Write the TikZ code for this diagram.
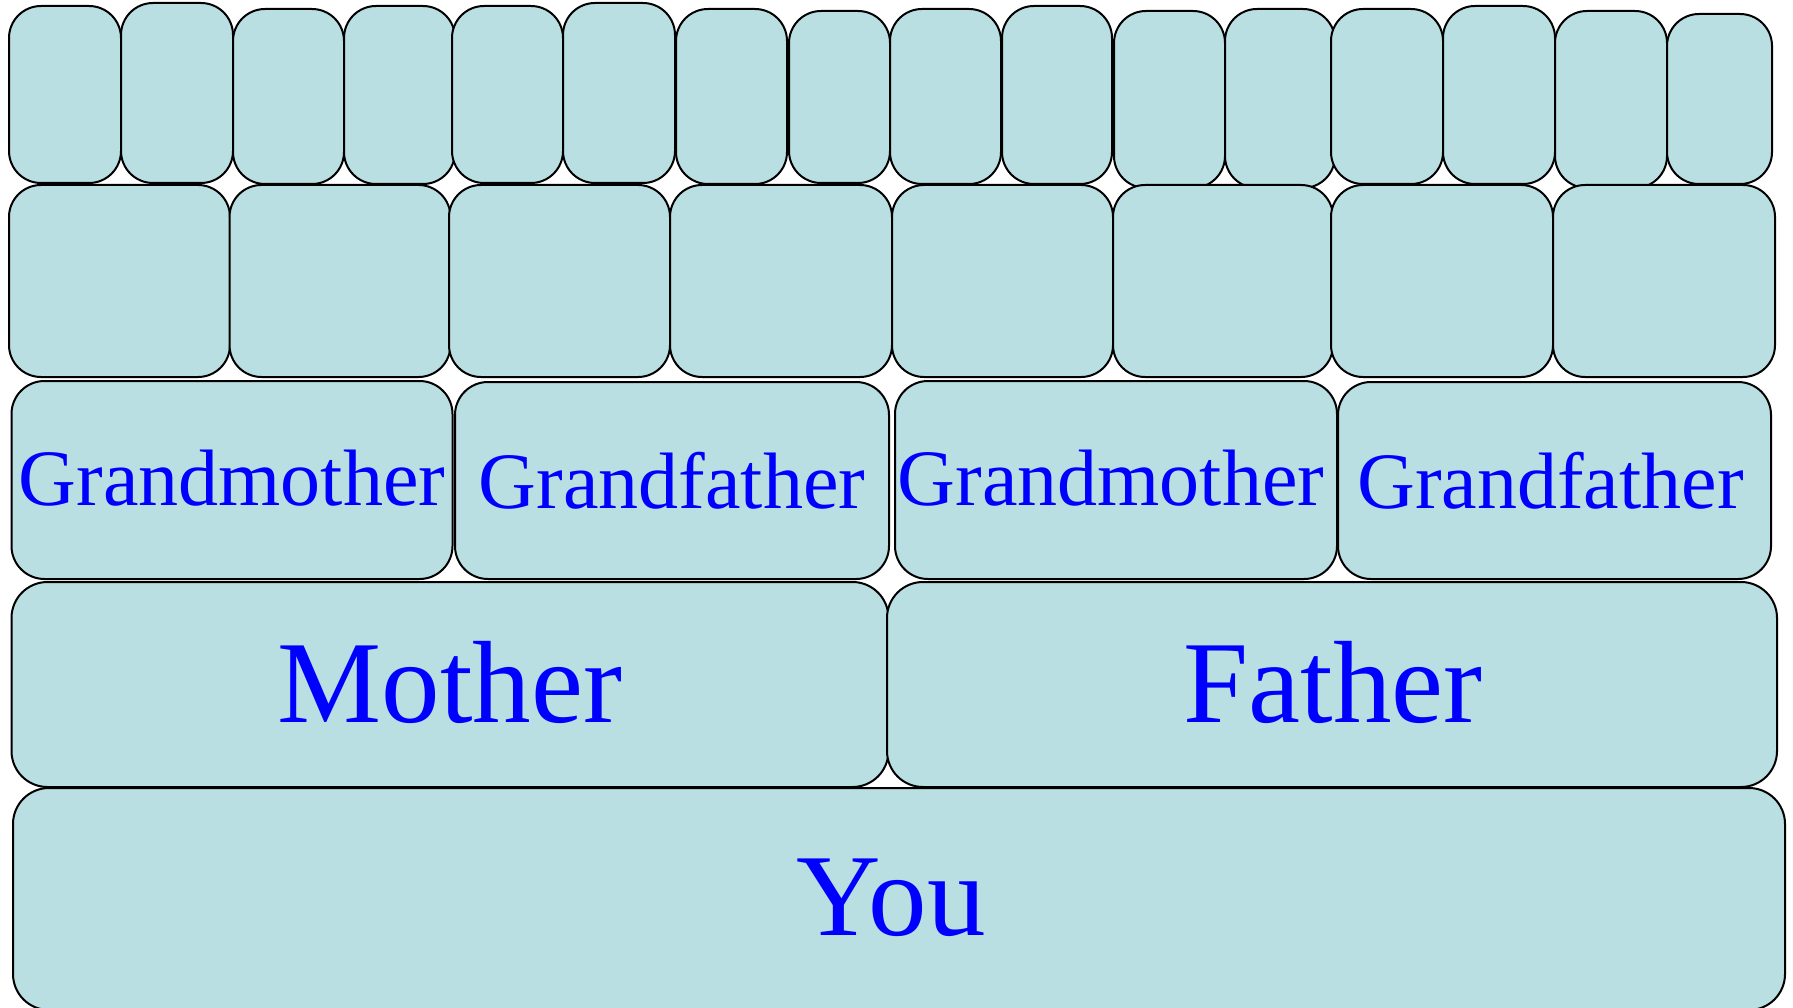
\documentclass[tikz,border=0pt]{standalone}
\usepackage{fontspec}
\setmainfont{Liberation Serif}
\definecolor{boxfill}{RGB}{186,223,226}
\definecolor{namecol}{RGB}{0,0,255}
\tikzset{
  person/.style={draw=black, line width=2pt, fill=boxfill, text=namecol,
    inner sep=0pt, align=center},
  greatgp/.style={person, rounded corners=32pt},
  greatp/.style={person, rounded corners=32pt},
  gparent/.style={person, rounded corners=33pt,
    font=\fontsize{80}{90}\selectfont},
  parent/.style={person, rounded corners=36pt,
    font=\fontsize{117}{130}\selectfont},
}
\begin{document}
\begin{tikzpicture}[x=1pt,y=-1pt]
    \useasboundingbox (0,0) rectangle (1793,1008);
    % great-great-grandparents
    \node[greatgp, minimum width=112pt, minimum height=177pt] (gg1) at (65,94.5) {};
    \node[greatgp, minimum width=112pt, minimum height=180pt] (gg2) at (177,93) {};
    \node[greatgp, minimum width=111pt, minimum height=175pt] (gg3) at (288.5,96.5) {};
    \node[greatgp, minimum width=111pt, minimum height=178pt] (gg4) at (399.5,95) {};
    \node[greatgp, minimum width=111pt, minimum height=177pt] (gg5) at (507.5,94.5) {};
    \node[greatgp, minimum width=112pt, minimum height=180pt] (gg6) at (619,93) {};
    \node[greatgp, minimum width=111pt, minimum height=175pt] (gg7) at (731.5,96.5) {};
    \node[greatgp, minimum width=101pt, minimum height=172pt] (gg8) at (839.5,97) {};
    \node[greatgp, minimum width=111pt, minimum height=175pt] (gg9) at (945.5,96.5) {};
    \node[greatgp, minimum width=110pt, minimum height=178pt] (gg10) at (1057,95) {};
    \node[greatgp, minimum width=111pt, minimum height=177pt] (gg11) at (1169.5,99.5) {};
    \node[greatgp, minimum width=110pt, minimum height=179pt] (gg12) at (1280,98.5) {};
    \node[greatgp, minimum width=112pt, minimum height=175pt] (gg13) at (1387,96.5) {};
    \node[greatgp, minimum width=112pt, minimum height=178pt] (gg14) at (1499,95) {};
    \node[greatgp, minimum width=112pt, minimum height=177pt] (gg15) at (1611,99.5) {};
    \node[greatgp, minimum width=105pt, minimum height=170pt] (gg16) at (1719.5,99) {};
    % great-grandparents
    \node[greatp, minimum width=221pt, minimum height=192pt] (g1) at (119.5,281) {};
    \node[greatp, minimum width=221pt, minimum height=192pt] (g2) at (340,281) {};
    \node[greatp, minimum width=221pt, minimum height=192pt] (g3) at (559.5,281) {};
    \node[greatp, minimum width=222pt, minimum height=192pt] (g4) at (781,281) {};
    \node[greatp, minimum width=221pt, minimum height=192pt] (g5) at (1002.5,281) {};
    \node[greatp, minimum width=220pt, minimum height=192pt] (g6) at (1223,281) {};
    \node[greatp, minimum width=222pt, minimum height=192pt] (g7) at (1442,281) {};
    \node[greatp, minimum width=222pt, minimum height=192pt] (g8) at (1664,281) {};
    % grandparents
    \node[gparent, minimum width=441pt, minimum height=198pt] (gm1) at (232,480) {\raisebox{5pt}{Grandmother}};
    \node[gparent, minimum width=434pt, minimum height=197pt] (gf1) at (672,480.5) {Grandfather};
    \node[gparent, minimum width=442pt, minimum height=198pt] (gm2) at (1116,480) {\hspace*{-10pt}\raisebox{5pt}{Grandmother}};
    \node[gparent, minimum width=433pt, minimum height=197pt] (gf2) at (1554.5,480.5) {\hspace*{-8pt}Grandfather};
    % parents
    \node[parent, minimum width=877pt, minimum height=205pt] (mother) at (450,684.5) {\raisebox{6pt}{Mother}};
    \node[parent, minimum width=890pt, minimum height=205pt] (father) at (1332,684.5) {\hspace*{2pt}\raisebox{6pt}{Father}};
    % you
    \node[parent, minimum width=1772pt, minimum height=222pt] (you) at (899,899) {\hspace*{-16pt}\raisebox{4pt}{You}};
\end{tikzpicture}
\end{document}
